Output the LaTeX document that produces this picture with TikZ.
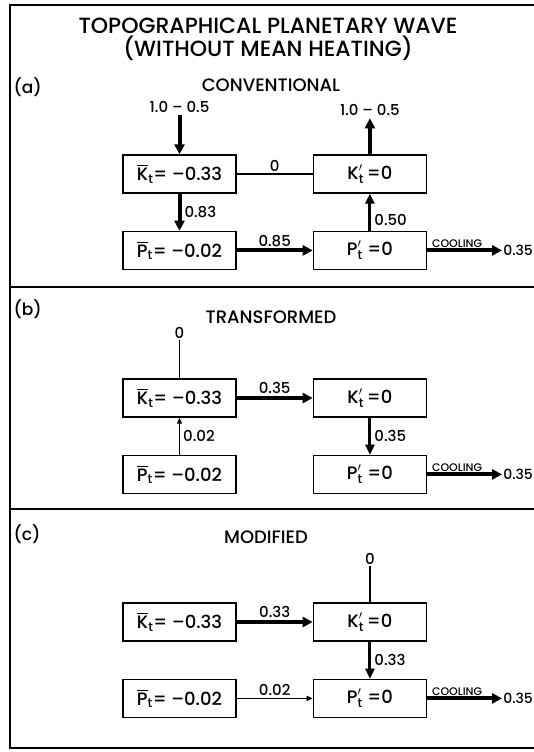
\documentclass[tikz,border=0pt]{standalone}
\usepackage{amsmath}
\usepackage{fontspec}
\setmainfont{Poppins Medium}
\usetikzlibrary{arrows.meta,positioning}

\newcommand{\Kmean}{$\overline{\text{K}}_{\text{t}}$}
\newcommand{\Pmean}{$\overline{\text{P}}_{\text{t}}$}
\newcommand{\Keddy}{$\text{K}'_{\text{t}}$}
\newcommand{\Peddy}{$\text{P}'_{\text{t}}$}

\begin{document}
\begin{tikzpicture}[
    x=1pt, y=-1pt,
    node distance=37pt and 76pt,
    box/.style={rectangle, draw, line width=1.4pt, minimum width=113pt, minimum height=38pt, inner sep=0pt, font=\fontsize{18}{20}\selectfont},
    num/.style={font=\fontsize{15}{17}\selectfont, inner sep=2pt},
    sink/.style={font=\fontsize{14}{16}\selectfont, inner sep=1pt, anchor=west},
    head/.style={font=\fontsize{18}{20}\selectfont},
    tag/.style={font=\fontsize{17}{20}\selectfont, anchor=west},
    flow/.style={-{Triangle[length=10pt, width=10pt]}, line width=4pt},
    midflow/.style={-{Triangle[length=10pt, width=9pt]}, line width=3pt},
    thinflow/.style={-{Triangle[length=6pt, width=5pt]}, line width=1.4pt},
    link/.style={line width=1.2pt},
    cool/.style={font=\fontsize{11}{12}\selectfont, above, inner sep=1pt, pos=0.4}
]
\useasboundingbox (0,0) rectangle (534,752);
% frame and panel rules, open at the right
\draw[line width=1.4pt] (534,5) -- (10,5) -- (10,748) -- (534,748);
\draw[line width=1.4pt] (10,287) -- (534,287);
\draw[line width=1.4pt] (10,509) -- (534,509);
\node[font=\fontsize{22}{23}\selectfont, align=center] (title) at (268,39) {TOPOGRAPHICAL PLANETARY WAVE\\(WITHOUT MEAN HEATING)};

% (a) conventional
\node[tag] (taga) at (10,87) {(a)};
\node[head] (heada) at (271,85) {CONVENTIONAL};
\node[box] (Ka) at (179.5,174) {\Kmean= --0.33};
\node[box, right=of Ka] (Kpa) {\Keddy\,=0};
\node[box, below=of Ka] (Pa) {\Pmean= --0.02};
\node[box, below=of Kpa] (Ppa) {\Peddy\ =0};
\node[num, above=39pt of Ka] (ina) {1.0 -- 0.5};
\node[num, above=36pt of Kpa] (outa) {1.0 -- 0.5};
\node[sink, right=75pt of Ppa] (sinka) {0.35};
\draw[flow] (ina) -- (Ka);
\draw[flow] (Kpa) -- (outa);
\draw[link] (Ka) -- node[num, above] {0} (Kpa);
\draw[flow] (Ka) -- node[num, right=1pt] {0.83} (Pa);
\draw[flow] (Pa) -- node[num, above] {0.85} (Ppa);
\draw[midflow] (Ppa) -- node[num, right=1pt, pos=0.3] {0.50} (Kpa);
\draw[flow] (Ppa) -- node[cool] {COOLING} (sinka);

% (b) transformed
\node[tag] (tagb) at (10,309) {(b)};
\node[head] (headb) at (271,317) {TRANSFORMED};
\node[box] (Kb) at (179.5,398) {\Kmean= --0.33};
\node[box, right=of Kb] (Kpb) {\Keddy\,=0};
\node[box, below=of Kb] (Pb) {\Pmean= --0.02};
\node[box, below=of Kpb] (Ppb) {\Peddy\ =0};
\node[num, above=38pt of Kb] (topb) {0};
\node[sink, right=75pt of Ppb] (sinkb) {0.35};
\draw[link] (topb) -- (Kb);
\draw[flow] (Kb) -- node[num, above] {0.35} (Kpb);
\draw[midflow] (Kpb) -- node[num, right=1pt] {0.35} (Ppb);
\draw[thinflow] (Pb) -- node[num, right=1pt] {0.02} (Kb);
\draw[flow] (Ppb) -- node[cool] {COOLING} (sinkb);

% (c) modified
\node[tag] (tagc) at (10,534) {(c)};
\node[head] (headc) at (266,537) {MODIFIED};
\node[box] (Kc) at (179.5,622) {\Kmean= --0.33};
\node[box, right=of Kc] (Kpc) {\Keddy\,=0};
\node[box, below=of Kc] (Pc) {\Pmean= --0.02};
\node[box, below=of Kpc] (Ppc) {\Peddy\ =0};
\node[num, above=36pt of Kpc] (topc) {0};
\node[sink, right=75pt of Ppc] (sinkc) {0.35};
\draw[link] (topc) -- (Kpc);
\draw[flow] (Kc) -- node[num, above] {0.33} (Kpc);
\draw[midflow] (Kpc) -- node[num, right=1pt] {0.33} (Ppc);
\draw[thinflow] (Pc) -- node[num, above] {0.02} (Ppc);
\draw[flow] (Ppc) -- node[cool] {COOLING} (sinkc);
\end{tikzpicture}
\end{document}
